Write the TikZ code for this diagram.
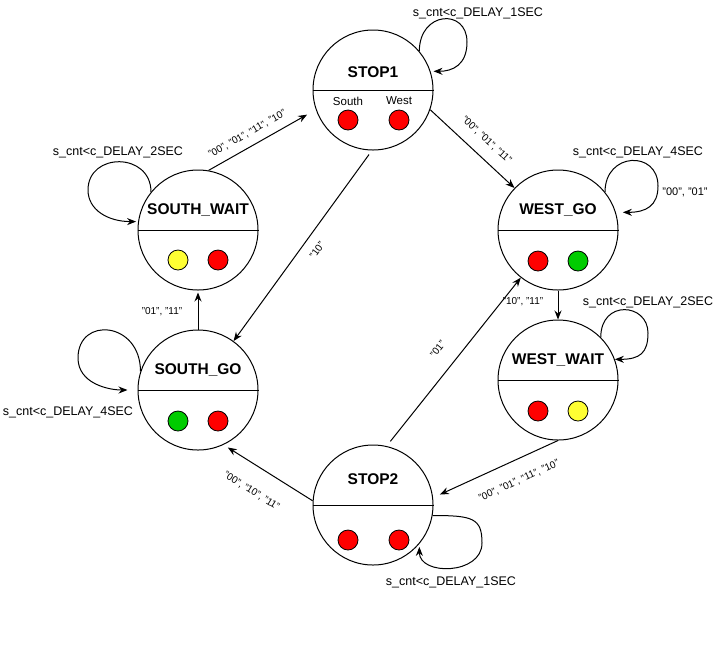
\documentclass[tikz,border=0pt]{standalone}
\usepackage{fontspec}
\setmainfont{Liberation Sans}
\usetikzlibrary{arrows.meta}
\definecolor{lampred}{HTML}{FF0000}
\definecolor{lampgreen}{HTML}{00CC00}
\definecolor{lampyellow}{HTML}{FFFF33}
\tikzstyle{fsm} = [circle, draw=black, line width=1pt, minimum size=120pt, inner sep=0]
\tikzstyle{divider} = [line width=1pt]
\tikzstyle{statename} = [font=\fontsize{15.5}{18}\selectfont\bfseries, text height=11pt, text depth=0pt]
\tikzstyle{lampname} = [font=\fontsize{11.5}{14}\selectfont]
\tikzstyle{lamp} = [circle, draw=black, line width=0.8pt, minimum size=20pt, inner sep=0]
\tikzstyle{guard} = [font=\fontsize{12.5}{15}\selectfont]
\tikzstyle{cond} = [font=\fontsize{10}{12}\selectfont]
\tikzstyle{trans} = [line width=1pt, -{Stealth[length=9pt, width=7pt, inset=3pt]}]

\begin{document}
\begin{tikzpicture}[x=1pt, y=-1pt]
				\path [use as bounding box, fill=white] (0, 0) rectangle (719, 657);

				% states
				\node (Stop1) [fsm] at (373, 90) {};
				\node (WestGo) [fsm] at (558, 230) {};
				\node (WestWait) [fsm] at (558, 380) {};
				\node (Stop2) [fsm] at (373, 505) {};
				\node (SouthGo) [fsm] at (198, 390) {};
				\node (SouthWait) [fsm] at (198, 230) {};

				\draw [divider] (Stop1.west) -- (Stop1.east);
				\draw [divider] (WestGo.west) -- (WestGo.east);
				\draw [divider] (WestWait.west) -- (WestWait.east);
				\draw [divider] (Stop2.west) -- (Stop2.east);
				\draw [divider] (SouthGo.west) -- (SouthGo.east);
				\draw [divider] (SouthWait.west) -- (SouthWait.east);

				\node (Stop1Name) [statename] at (373, 72) {STOP1};
				\node (WestGoName) [statename] at (558, 209) {WEST\_GO};
				\node (WestWaitName) [statename] at (558, 359) {WEST\_WAIT};
				\node (Stop2Name) [statename] at (373, 479) {STOP2};
				\node (SouthGoName) [statename] at (198, 369) {SOUTH\_GO};
				\node (SouthWaitName) [statename] at (198, 209) {SOUTH\_WAIT};

				% lamps: south left, west right
				\node (Stop1South) [lampname] at (348, 101) {South};
				\node (Stop1West) [lampname] at (399, 101) {West};
				\node (Stop1SouthLamp) [lamp, fill=lampred] at (348, 120) {};
				\node (Stop1WestLamp) [lamp, fill=lampred] at (399, 120) {};

				\node (WestGoSouthLamp) [lamp, fill=lampred] at (538, 261) {};
				\node (WestGoWestLamp) [lamp, fill=lampgreen] at (578, 261) {};

				\node (WestWaitSouthLamp) [lamp, fill=lampred] at (538, 411) {};
				\node (WestWaitWestLamp) [lamp, fill=lampyellow] at (578, 411) {};

				\node (Stop2SouthLamp) [lamp, fill=lampred] at (348, 540) {};
				\node (Stop2WestLamp) [lamp, fill=lampred] at (399, 540) {};

				\node (SouthGoSouthLamp) [lamp, fill=lampgreen] at (178, 421) {};
				\node (SouthGoWestLamp) [lamp, fill=lampred] at (218, 421) {};

				\node (SouthWaitSouthLamp) [lamp, fill=lampyellow] at (178, 260) {};
				\node (SouthWaitWestLamp) [lamp, fill=lampred] at (218, 260) {};

				% transitions
				\draw [trans, shorten >=10pt] (SouthWait.80) -- node [cond, sloped, above=4.5pt, pos=0.42] (LblWaitStop1) {"00", "01", "11", "10"} (Stop1.199);
				\draw [trans] (Stop1.-19) -- node [cond, sloped, above=8pt, pos=0.54] (LblStop1West) {"00", "01", "11"} (WestGo.136);
				\draw [trans, shorten <=5pt] (Stop1.-91) -- node [cond, sloped, below=7pt, pos=0.48] (LblStop1South) {"10"} (SouthGo.54);
				\draw [trans, shorten >=2pt] (SouthGo.north) -- node [cond, left=12pt, pos=0.45] (LblSouthWait) {"01", "11"} (SouthWait.south);
				\draw [trans] (WestGo.south) -- node [cond, left=11pt, pos=0.4] (LblWestWait) {"10", "11"} (WestWait.north);
				\draw [trans, shorten >=7.5pt] (WestWait.south) -- node [cond, sloped, below=12.5pt, pos=0.38] (LblWaitStop2) {"00", "01", "11", "10"} (Stop2.7);
				\draw [trans, shorten >=5pt] (Stop2.176) -- node [cond, sloped, below=16.5pt, pos=0.54] (LblStop2South) {"00", "10", "11"} (SouthGo.-65);
				\draw [trans, shorten <=6pt] (Stop2.77) -- node [cond, sloped, above=13pt, pos=0.5] (LblStop2West) {"01"} (WestGo.232);

				% self loops
				\coordinate (Stop1Loop) at (467, 42);
				\draw [trans, shorten >=3pt] (Stop1.40) .. controls +(0, -40) and +(0, -34) .. (Stop1Loop) .. controls +(0, 23) and +(22, 0) .. (Stop1.18);
				\node (Stop1Guard) [guard] at (478, 13) {s\_cnt<c\_DELAY\_1SEC};

				\coordinate (WestGoLoop) at (658, 186);
				\draw [trans, shorten >=7pt] (WestGo.39) .. controls +(0, -40) and +(0, -36) .. (WestGoLoop) .. controls +(0, 20) and +(30, 0) .. (WestGo.17);
				\node (WestGoGuard) [guard] at (638, 152) {s\_cnt<c\_DELAY\_4SEC};
				\node (WestGoCond) [cond, font=\fontsize{11}{13}\selectfont] at (685, 192) {"00", "01"};

				\coordinate (WestWaitLoop) at (648, 333);
				\draw [trans] (WestWait.45) .. controls +(0, -38) and +(0, -30) .. (WestWaitLoop) .. controls +(0, 20) and +(25, 0) .. (WestWait.20);
				\node (WestWaitGuard) [guard] at (648, 302) {s\_cnt<c\_DELAY\_2SEC};

				\coordinate (Stop2Loop) at (482, 543);
				\draw [trans, shorten >=3pt] (Stop2.-10) .. controls +(40, 0) and +(0, -25) .. (Stop2Loop) .. controls +(0, 32) and +(0, 32) .. (Stop2.-40);
				\node (Stop2Guard) [guard] at (451, 582) {s\_cnt<c\_DELAY\_1SEC};

				\coordinate (SouthGoLoop) at (78, 358);
				\draw [trans, shorten >=10pt] (SouthGo.162) .. controls +(0, -50) and +(0, -42) .. (SouthGoLoop) .. controls +(0, 25) and +(-30, 0) .. (SouthGo.180);
				\node (SouthGoGuard) [guard] at (68, 412) {s\_cnt<c\_DELAY\_4SEC};

				\coordinate (SouthWaitLoop) at (88, 190);
				\draw [trans, shorten >=2pt] (SouthWait.141) .. controls +(0, -40) and +(0, -38) .. (SouthWaitLoop) .. controls +(0, 20) and +(-30, 0) .. (SouthWait.172);
				\node (SouthWaitGuard) [guard] at (118, 152) {s\_cnt<c\_DELAY\_2SEC};
			\end{tikzpicture}
\end{document}
